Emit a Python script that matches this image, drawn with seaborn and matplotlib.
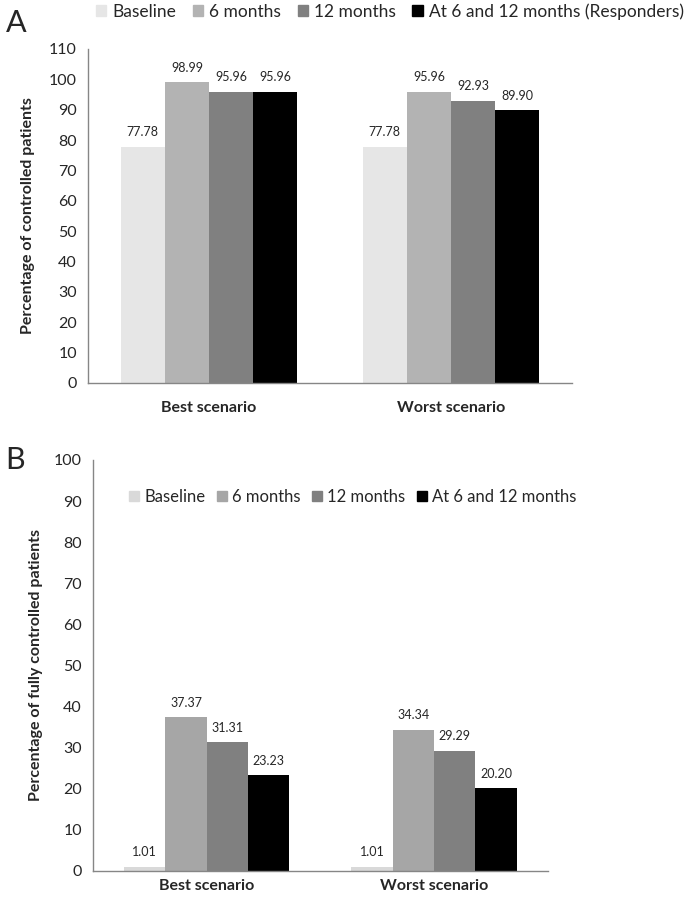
import pandas as pd
import seaborn as sns
import matplotlib.pyplot as plt

# chart data
scenarios = ["Best scenario", "Worst scenario"]
periods_a = ["Baseline", "6 months", "12 months", "At 6 and 12 months (Responders)"]
periods_b = ["Baseline", "6 months", "12 months", "At 6 and 12 months"]
controlled = {
    "Best scenario": [77.78, 98.99, 95.96, 95.96],
    "Worst scenario": [77.78, 95.96, 92.93, 89.90],
}
fully_controlled = {
    "Best scenario": [1.01, 37.37, 31.31, 23.23],
    "Worst scenario": [1.01, 34.34, 29.29, 20.20],
}
colors_a = ["#e6e6e6", "#b3b3b3", "#808080", "#000000"]
colors_b = ["#d9d9d9", "#a6a6a6", "#808080", "#000000"]


def to_long(values, periods):
    rows = []
    for sc in scenarios:
        for p, v in zip(periods, values[sc]):
            rows.append({"Scenario": sc, "Period": p, "Value": v})
    return pd.DataFrame(rows)


def style_axis(ax, ymax, step, label_pad):
    ax.set_xlim(-0.5, 1.5)
    ax.set_ylim(0, ymax)
    ax.set_yticks(range(0, ymax + 1, step))
    for s in ["top", "right"]:
        ax.spines[s].set_visible(False)
    for s in ["left", "bottom"]:
        ax.spines[s].set_color("#868686")
        ax.spines[s].set_linewidth(1.0)
    # ticks at category borders, labels at centres
    ax.set_xticks([-0.5, 0.5, 1.5])
    ax.set_xticklabels([])
    ax.set_xticks([0, 1], minor=True)
    ax.set_xticklabels(scenarios, minor=True, fontweight="bold", fontsize=11.5)
    ax.tick_params(axis="x", which="major", length=9, color="#868686", direction="out")
    ax.tick_params(axis="x", which="minor", length=0, pad=label_pad)
    ax.tick_params(axis="y", length=4, color="#868686", labelsize=11.5, pad=4)
    ax.set_xlabel("")


sns.set_theme(style="white")
plt.rcParams["font.family"] = ["Lato", "DejaVu Sans"]

fig = plt.figure(figsize=(6.85, 9.02), dpi=100)

# panel A
ax1 = fig.add_axes([0.1285, 0.5754, 0.7066, 0.3703])
df_a = to_long(controlled, periods_a)
sns.barplot(data=df_a, x="Scenario", y="Value", hue="Period", hue_order=periods_a,
            palette=colors_a, width=0.73, gap=0, saturation=1, linewidth=0,
            ax=ax1, legend=False)
for c in ax1.containers:
    ax1.bar_label(c, fmt="%.2f", padding=6, fontsize=9)
style_axis(ax1, 110, 10, 13)
ax1.set_ylabel("Percentage of controlled patients", fontweight="bold", fontsize=11.5, labelpad=10)
handles_a = [plt.Rectangle((0, 0), 1, 1, color=c) for c in colors_a]
fig.legend(handles_a, periods_a, loc="center left", bbox_to_anchor=(0.14, 0.987), ncol=4,
           frameon=False, fontsize=12.5, handlelength=0.6, handleheight=0.6,
           handletextpad=0.35, columnspacing=0.95, borderaxespad=0, borderpad=0)
fig.text(0.008, 0.975, "A", fontsize=22, va="center", ha="left")

# panel B
ax2 = fig.add_axes([0.1358, 0.0344, 0.664, 0.4557])
df_b = to_long(fully_controlled, periods_b)
sns.barplot(data=df_b, x="Scenario", y="Value", hue="Period", hue_order=periods_b,
            palette=colors_b, width=0.727, gap=0, saturation=1, linewidth=0,
            ax=ax2, legend=False)
for c in ax2.containers:
    ax2.bar_label(c, fmt="%.2f", padding=6, fontsize=9)
style_axis(ax2, 100, 10, 6)
ax2.set_ylabel("Percentage of fully controlled patients", fontweight="bold", fontsize=11.5, labelpad=8)
handles_b = [plt.Rectangle((0, 0), 1, 1, color=c) for c in colors_b]
ax2.legend(handles_b, periods_b, loc="center left", bbox_to_anchor=(0.08, 0.91), ncol=4,
           frameon=False, fontsize=12, handlelength=0.6, handleheight=0.6,
           handletextpad=0.3, columnspacing=0.7, borderaxespad=0, borderpad=0)
fig.text(0.008, 0.49, "B", fontsize=22, va="center", ha="left")

fig.savefig("out.png", dpi=100)
